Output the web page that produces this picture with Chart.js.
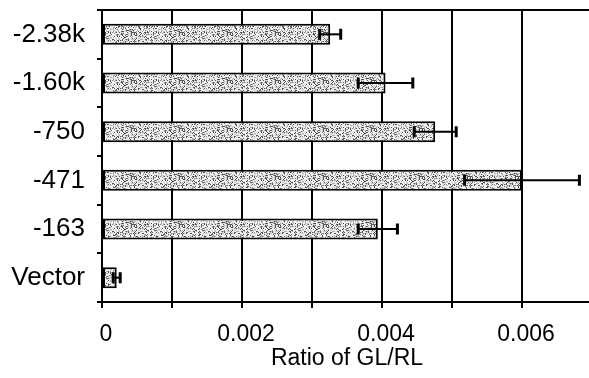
<!DOCTYPE html>
<html>
<head>
<meta charset="utf-8">
<script src="https://cdn.jsdelivr.net/npm/chart.js@4"></script>
<style>
  html, body { margin: 0; padding: 0; background: #fff; overflow: hidden; }
  #wrap { width: 596px; height: 378px; }
</style>
</head>
<body>
<div id="wrap"><canvas id="grafico"></canvas></div>
<script>
// dados
const construcoes = ['-2.38k', '-1.60k', '-750', '-471', '-163', 'Vector'];
const razao = [0.00326, 0.00405, 0.00476, 0.0060, 0.00394, 0.00021];
const erro = [0.00015, 0.00039, 0.00030, 0.00082, 0.00028, 0.00005];
const ticksX = [0, 0.001, 0.002, 0.003, 0.004, 0.005, 0.006, 0.007];

// textura pontilhada das barras (só estilo)
function pontilhado() {
  const c = document.createElement('canvas');
  c.width = 48; c.height = 48;
  const g = c.getContext('2d');
  g.fillStyle = '#eeeeee';
  g.fillRect(0, 0, 48, 48);
  let s = 12345;
  for (let y = 0; y < 48; y++) {
    for (let x = 0; x < 48; x++) {
      s = (s * 1103515245 + 12345) % 2147483648;
      const r = s / 2147483648;
      if (r < 0.18) { g.fillStyle = '#555'; g.fillRect(x, y, 1, 1); }
      else if (r < 0.36) { g.fillStyle = '#aaa'; g.fillRect(x, y, 1, 1); }
    }
  }
  return g.createPattern(c, 'repeat');
}

const barrasErro = {
  id: 'barrasErro',
  afterDatasetsDraw(chart) {
    const ctx = chart.ctx;
    const x = chart.scales.x;
    const meta = chart.getDatasetMeta(0);
    ctx.save();
    ctx.strokeStyle = '#000';
    meta.data.forEach((bar, i) => {
      const lo = x.getPixelForValue(razao[i] - erro[i]);
      const hi = x.getPixelForValue(razao[i] + erro[i]);
      const y = bar.y;
      ctx.lineWidth = 2;
      ctx.beginPath();
      ctx.moveTo(lo, y); ctx.lineTo(hi, y);
      ctx.stroke();
      ctx.lineWidth = 3;
      ctx.beginPath();
      ctx.moveTo(lo, y - 5.5); ctx.lineTo(lo, y + 5.5);
      ctx.moveTo(hi, y - 5.5); ctx.lineTo(hi, y + 5.5);
      ctx.stroke();
    });
    // linha superior do quadro
    const a = chart.chartArea;
    ctx.lineWidth = 2;
    ctx.beginPath();
    ctx.moveTo(a.left, a.top); ctx.lineTo(a.right, a.top);
    ctx.stroke();
    ctx.restore();
  }
};

const familia = "'Liberation Sans', Arial, sans-serif";

new Chart(document.getElementById('grafico'), {
  type: 'bar',
  data: {
    labels: construcoes,
    datasets: [{
      data: razao,
      backgroundColor: pontilhado(),
      borderColor: '#000',
      borderWidth: 2,
      borderSkipped: false,
      categoryPercentage: 1,
      barPercentage: 0.43
    }]
  },
  options: {
    indexAxis: 'y',
    responsive: true,
    maintainAspectRatio: false,
    animation: false,
    layout: { padding: { top: 10, right: 4, left: 0, bottom: 0 } },
    plugins: { legend: { display: false }, tooltip: { enabled: false } },
    scales: {
      x: {
        type: 'linear',
        min: 0,
        max: 0.007,
        afterBuildTicks(scale) { scale.ticks = ticksX.map(v => ({ value: v })); },
        afterFit(scale) {
          scale.height = 76;
          scale.paddingLeft = 0;
          scale.paddingRight = 0;
        },
        ticks: {
          autoSkip: false,
          maxRotation: 0,
          color: '#000',
          font: { family: familia, size: 23 },
          padding: 13,
          labelOffset: 4,
          callback: (v, i) => i % 2 === 0 ? (i === 0 ? '0' : v.toFixed(3)) : ''
        },
        grid: { color: '#000', lineWidth: 2, tickLength: 6 },
        border: { color: '#000', width: 2 },
        title: {
          display: true,
          text: 'Ratio of GL/RL',
          color: '#000',
          font: { family: familia, size: 23 },
          padding: { top: 0, bottom: 6 }
        }
      },
      y: {
        afterFit(scale) {
          scale.width = 102;
          scale.paddingTop = 0;
          scale.paddingBottom = 0;
        },
        ticks: { color: '#000', font: { family: familia, size: 26 }, padding: 12 },
        grid: { drawOnChartArea: false, color: '#000', lineWidth: 2, tickLength: 5 },
        border: { color: '#000', width: 2 }
      }
    }
  },
  plugins: [barrasErro]
});
</script>
</body>
</html>
